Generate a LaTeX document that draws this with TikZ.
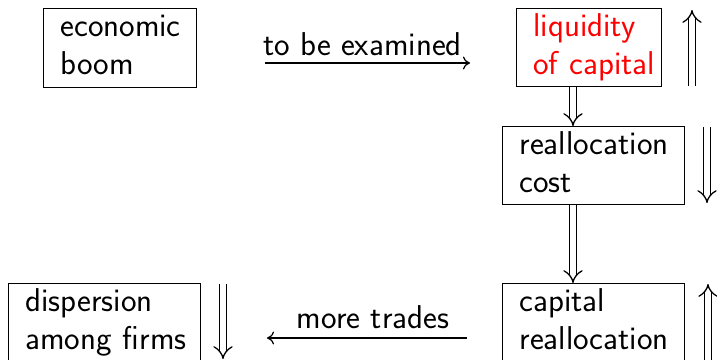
\documentclass[tikz,border=0pt]{standalone}
\usetikzlibrary{arrows.meta,calc}
\newcommand\boxline[1]{\mbox{\strut#1}}
\tikzset{
  box/.style={draw, line width=0.9pt, inner xsep=17pt, inner ysep=0pt, align=left,
    anchor=north west, font=\fontsize{33}{38}\selectfont\sffamily},
  dbl/.style={double, double distance=5.5pt, line width=1.3pt, -{Implies[length=11pt,width=22pt]}},
  sarrow/.style={line width=1.2pt, -{Computer Modern Rightarrow[length=7pt,width=13pt]}},
  lbl/.style={font=\fontsize{33}{38}\selectfont\sffamily, anchor=base, inner sep=0pt}
}
\begin{document}
\begin{tikzpicture}[x=1pt,y=-1pt]
\useasboundingbox (0,0) rectangle (717,359);
% boxes
\node[box, text width=119pt, minimum height=79pt] (boom) at (43,8) {\boxline{economic}\\\boxline{boom}};
\node[box, text width=111pt, minimum height=78pt, text=red] (liq) at (516,8) {\boxline{liquidity}\\\boxline{of capital}};
\node[box, text width=148pt, minimum height=78pt] (cost) at (502,126) {\boxline{reallocation}\\\boxline{cost}};
\node[box, text width=148pt, minimum height=79pt] (capre) at (502,283) {\boxline{capital}\\\boxline{reallocation}};
\node[box, text width=158pt, minimum height=79pt] (disp) at (8,283) {\boxline{dispersion}\\\boxline{among firms}};
% vertical connectors between boxes
\coordinate (vx) at (573,0);
\draw[dbl] (vx |- liq.south) -- (vx |- cost.north);
\draw[dbl] (vx |- cost.south) -- (vx |- capre.north);
% horizontal arrows with labels
\node[lbl] (t1) at (362.5,55) {to be examined};
\coordinate (a1s) at (265,63);
\coordinate (a1e) at (470,63);
\draw[sarrow] (a1s) -- (a1e);
\node[lbl] (t2) at (373,328) {more trades};
\coordinate (a2s) at (467,338);
\coordinate (a2e) at (267,338);
\draw[sarrow] (a2s) -- (a2e);
% side arrows
\coordinate (s1a) at (692,86);  \coordinate (s1b) at (692,10);
\coordinate (s2a) at (707,127); \coordinate (s2b) at (707,203);
\coordinate (s3a) at (708,362); \coordinate (s3b) at (708,284);
\coordinate (s4a) at (223,284); \coordinate (s4b) at (223,359);
\draw[dbl] (s1a) -- (s1b);
\draw[dbl] (s2a) -- (s2b);
\draw[dbl] (s3a) -- (s3b);
\draw[dbl] (s4a) -- (s4b);
\end{tikzpicture}
\end{document}
